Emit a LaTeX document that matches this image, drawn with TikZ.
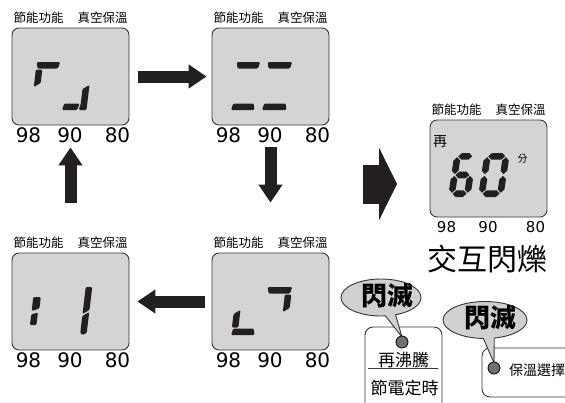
\documentclass[tikz,border=0pt]{standalone}
\usepackage{fontspec}
\setmainfont{DejaVu Sans}
\newfontfamily\cjk{Noto Sans CJK TC}
\usetikzlibrary{arrows.meta, shapes.geometric, shapes.callouts}
\definecolor{lcdgray}{RGB}{212, 212, 212}
\definecolor{inkblack}{RGB}{35, 31, 32}
\definecolor{bubblegray}{RGB}{208, 208, 208}
\definecolor{dotgray}{RGB}{112, 112, 112}
\definecolor{framegray}{RGB}{55, 55, 55}

% LCD segments: half thickness, gap, end bevel, middle cut
\newcommand{\segh}{3.25}
\newcommand{\seggap}{1}
\newcommand{\segb}{1.5}
\newcommand{\segd}{2}
% digit frame: left, right, top, bottom (segment centre lines)
\newcommand{\setdigit}[4]{\def\dxL{#1}\def\dxR{#2}\def\dyT{#3}\def\dyB{#4}\pgfmathsetmacro\dyM{(#3+#4)/2}}
\newcommand{\segA}{\fill ({\dxL-\segh},{\dyT-\segh}) -- ({\dxR+\segh},{\dyT-\segh}) -- ({\dxR+\segh-\segb},{\dyT+\segh}) -- ({\dxL-\segh+\segb},{\dyT+\segh}) -- cycle;}
\newcommand{\segD}{\fill ({\dxL-\segh+\segb},{\dyB-\segh}) -- ({\dxR+\segh-\segb},{\dyB-\segh}) -- ({\dxR+\segh},{\dyB+\segh}) -- ({\dxL-\segh},{\dyB+\segh}) -- cycle;}
\newcommand{\segF}{\fill ({\dxL-\segh},{\dyT+\segh+\seggap}) -- ({\dxL+\segh},{\dyT+\segh+\seggap}) -- ({\dxL+\segh},{\dyM-\seggap-\segd}) -- ({\dxL-\segh},{\dyM-\seggap+\segd}) -- cycle;}
\newcommand{\segE}{\fill ({\dxL-\segh},{\dyM+\seggap+\segd}) -- ({\dxL+\segh},{\dyM+\seggap-\segd}) -- ({\dxL+\segh},{\dyB-\segh-\seggap}) -- ({\dxL-\segh},{\dyB-\segh-\seggap}) -- cycle;}
\newcommand{\segB}{\fill ({\dxR-\segh},{\dyT+\segh+\seggap}) -- ({\dxR+\segh},{\dyT+\segh+\seggap}) -- ({\dxR+\segh},{\dyM-\seggap-\segd}) -- ({\dxR-\segh},{\dyM-\seggap+\segd}) -- cycle;}
% pointed segments for the big digits: x1, x2, y / x, y1, y2
\newcommand{\hexh}[3]{\fill ({#1},{#3}) -- ({#1+\segh},{#3-\segh}) -- ({#2-\segh},{#3-\segh}) -- ({#2},{#3}) -- ({#2-\segh},{#3+\segh}) -- ({#1+\segh},{#3+\segh}) -- cycle;}
\newcommand{\hexv}[3]{\fill ({#1},{#2}) -- ({#1+\segh},{#2+\segh}) -- ({#1+\segh},{#3-\segh}) -- ({#1},{#3}) -- ({#1-\segh},{#3-\segh}) -- ({#1-\segh},{#2+\segh}) -- cycle;}

\begin{document}
\begin{tikzpicture}[x=1pt, y=-1pt,
  lcdbox/.style={draw=framegray, line width=0.9pt, fill=lcdgray, rounded corners=7pt,
    minimum width=117pt, minimum height=97pt, inner sep=0pt},
  toplabel/.style={font=\cjk\fontsize{12.5}{12.5}\selectfont, inner sep=0pt},
  flowarrow/.style={draw=inkblack, line width=12pt, -{Triangle[length=18pt, width=23pt]}},
  bubble/.style={ellipse callout, draw=framegray, line width=0.9pt, fill=bubblegray, inner sep=0pt},
  keybox/.style={draw=framegray, line width=0.9pt, rounded corners=8pt},
  keydot/.style={circle, draw=black, line width=0.8pt, fill=dotgray, minimum size=12pt, inner sep=0pt},
  flashtext/.style={font=\cjk\bfseries\fontsize{26}{26}\selectfont, inner sep=0pt},
  keytext/.style={font=\cjk\fontsize{17}{17}\selectfont, inner sep=0pt},
  lcdseg/.style={fill=inkblack, rounded corners=1.2pt}]
  \useasboundingbox (0, 0) rectangle (565, 402);
  \clip (0, 0) rectangle (565, 402);

  % LCD panels with labels and temperature scale
  \foreach \px/\py/\nm/\fs in {12/28/p1/20, 212/28/p2/20, 12/253/p3/20, 212/253/p4/20, 430/120/p5/15} {
    \node[lcdbox] (\nm) at (\px+58.5, \py+48.5) {};
    \node[toplabel] (\nm-eco) at (\px+26.5, \py-10.5) {節能功能};
    \node[toplabel] (\nm-vac) at (\px+90.5, \py-10.5) {真空保溫};
    \node[inner sep=0pt, font=\fontsize{\fs}{\fs}\selectfont] (\nm-98) at (\px+16.5, \py+107) {98};
    \node[inner sep=0pt, font=\fontsize{\fs}{\fs}\selectfont] (\nm-90) at (\px+58, \py+107) {90};
    \node[inner sep=0pt, font=\fontsize{\fs}{\fs}\selectfont] (\nm-80) at (\px+105.5, \py+107) {80};
  }

  % Segments, panel 1
  \begin{scope}[shift={(12, 62)}, xslant=0.12, lcdseg]
    \setdigit{28}{45}{3.25}{44.75} \segA \segF
    \fill (57.25, 41.5) -- (72.5, 41.5) -- (71, 48) -- (55.75, 48) -- cycle;
    \fill (73.75, 27) -- (80.25, 23) -- (80.25, 48) -- (72.5, 48) -- (73.75, 42) -- cycle;
  \end{scope}

  % Segments, panel 2
  \begin{scope}[shift={(212, 62)}, xslant=0.12, lcdseg]
    \setdigit{28}{45}{3.25}{44.75} \segA \segD
    \setdigit{59}{77}{3.25}{44.75} \segA \segD
  \end{scope}

  % Segments, panel 3
  \begin{scope}[shift={(12, 287)}, xslant=0.12, lcdseg]
    \fill (22.5, 10) -- (30, 10) -- (30, 21.5) -- (22.5, 24) -- cycle;
    \fill (22.5, 27.5) -- (29, 25.5) -- (29, 38) -- (22.5, 38) -- cycle;
    \fill (73.75, 0) -- (80.25, 0) -- (80.25, 23) -- (73.75, 27) -- cycle;
    \fill (73.75, 29) -- (80.25, 25) -- (80.25, 46) -- (76, 48) -- (73.75, 46) -- cycle;
  \end{scope}

  % Segments, panel 4
  \begin{scope}[shift={(212, 287)}, xslant=0.12, lcdseg]
    \setdigit{28}{45}{3.25}{44.75} \segE \segD
    \setdigit{59}{77}{3.25}{44.75} \segA \segB
  \end{scope}

  % Panel 5: 60 minutes
  \node[inner sep=0pt, font=\cjk\fontsize{14}{14}\selectfont] (p5-re) at (440, 142) {再};
  \node[inner sep=0pt, font=\cjk\fontsize{10}{10}\selectfont] (p5-min) at (522.5, 159) {分};
  \begin{scope}[shift={(454.6, 153)}, xslant=0.15, fill=inkblack]
    \renewcommand{\segh}{3.3}
    \hexh{4.2}{18.1}{3.3}
    \hexv{3.3}{4.2}{21.1}
    \hexh{4.2}{18.1}{22}
    \hexv{3.3}{22.9}{39.8}
    \hexv{19}{22.9}{39.8}
    \hexh{4.2}{18.1}{40.7}
  \end{scope}
  \begin{scope}[shift={(484.6, 153)}, xslant=0.15, fill=inkblack]
    \renewcommand{\segh}{3.3}
    \hexh{4.2}{21.1}{3.3}
    \hexv{22}{4.2}{21.1}
    \hexv{22}{22.9}{39.8}
    \hexh{4.2}{21.1}{40.7}
    \hexv{3.3}{22.9}{39.8}
    \hexv{3.3}{4.2}{21.1}
  \end{scope}
  \node[inner sep=0pt, font=\cjk\fontsize{30}{30}\selectfont] (blink) at (487.5, 258.5) {交互閃爍};

  % Cycle arrows
  \draw[flowarrow, shorten <=9pt, shorten >=5pt] (p1) -- (p2);
  \draw[flowarrow, shorten <=22pt, shorten >=50pt] (p2) -- (p4);
  \draw[flowarrow, shorten <=7pt, shorten >=8pt] (p4) -- (p3);
  \draw[flowarrow, shorten <=50pt, shorten >=22pt] (p3) -- (p1);

  % Big arrow towards panel 5
  \coordinate (bigtail) at (363, 184);
  \coordinate (bighead) at (397, 184);
  \draw[draw=inkblack, line width=39pt, -{Triangle[length=18pt, width=72pt]}] (bigtail) -- (bighead);

  % Key boxes
  \draw[keybox] (365, 327) rectangle (442, 425);
  \draw[keybox] (482, 348) rectangle (590, 397);

  % Balloons and keys
  \coordinate (reboiltip) at (402, 337);
  \node[bubble, minimum width=80pt, minimum height=37pt,
    callout absolute pointer={(reboiltip)}] (flash1) at (381, 297.5) {};
  \node[flashtext] (flash1txt) at (387, 296) {閃滅};
  \node[keydot] (reboil) at (402, 342) {};

  \coordinate (warmtip) at (494, 363);
  \node[bubble, minimum width=84pt, minimum height=37pt,
    callout absolute pointer={(warmtip)}] (flash2) at (485, 320) {};
  \node[flashtext] (flash2txt) at (490, 318) {閃滅};
  \node[keydot] (keepwarm) at (494, 368) {};

  \node[keytext] (reboiltxt) at (403.5, 360) {再沸騰};
  \draw[framegray, line width=0.9pt] (368, 368) -- (438, 368);
  \node[keytext] (timertxt) at (404.5, 388) {節電定時};
  \node[inner sep=0pt, font=\cjk\fontsize{14}{14}\selectfont] (warmtxt) at (537, 370) {保溫選擇};
\end{tikzpicture}
\end{document}
